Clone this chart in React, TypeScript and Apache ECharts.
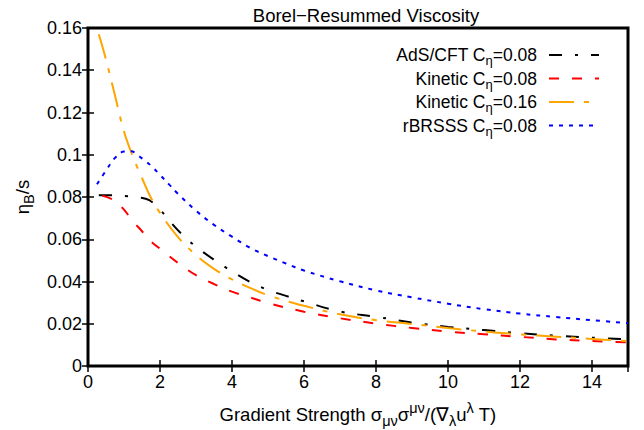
import React, { useEffect, useRef } from "react";
import * as echarts from "echarts";

const xAds = [0.3, 0.6, 1.0, 1.4, 1.7, 2.0, 2.3, 2.6, 3, 3.5, 4, 4.5, 5, 5.5, 6, 7, 8, 9, 10, 11, 12, 13, 14, 15];
const yAds = [0.0808, 0.0808, 0.0805, 0.0798, 0.0785, 0.074, 0.068, 0.0625, 0.0565, 0.0503, 0.0448, 0.0398, 0.036, 0.0332, 0.0306, 0.0258, 0.0233, 0.0206, 0.0185, 0.017, 0.0155, 0.0144, 0.0134, 0.0127];

const xKin08 = [0.4, 0.6, 0.8, 1.0, 1.25, 1.5, 1.75, 2, 2.5, 3, 3.5, 4, 4.5, 5, 6, 7, 8, 9, 10, 11, 12, 13, 14, 15];
const yKin08 = [0.0806, 0.0795, 0.0775, 0.074, 0.0685, 0.0638, 0.059, 0.0555, 0.0488, 0.043, 0.0388, 0.0352, 0.0325, 0.0298, 0.0257, 0.0226, 0.0201, 0.018, 0.0163, 0.015, 0.0138, 0.0126, 0.0118, 0.0112];

const xKin16 = [0.3, 0.5, 0.75, 1.0, 1.25, 1.5, 1.75, 2, 2.5, 3, 3.5, 4, 4.5, 5, 6, 7, 8, 9, 10, 11, 12, 13, 14, 15];
const yKin16 = [0.157, 0.145, 0.128, 0.111, 0.099, 0.089, 0.0795, 0.0725, 0.061, 0.0525, 0.046, 0.041, 0.037, 0.0335, 0.0285, 0.0245, 0.0217, 0.0199, 0.018, 0.0163, 0.015, 0.0139, 0.0128, 0.0118];

const xRb = [0.25, 0.5, 0.75, 1.0, 1.2, 1.4, 1.6, 1.8, 2.0, 2.25, 2.5, 3, 3.5, 4, 4.5, 5, 5.5, 6, 7, 8, 9, 10, 11, 12, 13, 14, 15];
const yRb = [0.086, 0.0925, 0.0985, 0.1015, 0.1016, 0.0995, 0.097, 0.094, 0.0905, 0.086, 0.0815, 0.0735, 0.0668, 0.0612, 0.056, 0.052, 0.0485, 0.0452, 0.0401, 0.0358, 0.0325, 0.0295, 0.0269, 0.0248, 0.0232, 0.0217, 0.0203];

const seriesNames = ["AdS/CFT C_eta=0.08", "Kinetic C_eta=0.08", "Kinetic C_eta=0.16", "rBRSSS C_eta=0.08"];
const legendPrefix = ["AdS/CFT C", "Kinetic C", "Kinetic C", "rBRSSS C"];
const legendSuffix = ["=0.08", "=0.08", "=0.16", "=0.08"];

const titleText = "Borel\u2212Resummed Viscosity";

const zip = (xs: number[], ys: number[]) => xs.map((x, i) => [x, ys[i]]);

const FONT = "Liberation Sans, Arial, Helvetica, sans-serif";

export default function App() {
  const ref = useRef<HTMLDivElement>(null);
  useEffect(() => {
    if (!ref.current) return;
    const chart = echarts.init(ref.current, undefined, { renderer: "svg" });
    const colors = ["#000000", "#ff0000", "#ffa500", "#0000ff"];
    const dashes = [
      [13, 13, 3, 13],
      [10, 13],
      [25, 10, 5, 10],
      [4, 6],
    ];
    const datas = [zip(xAds, yAds), zip(xKin08, yKin08), zip(xKin16, yKin16), zip(xRb, yRb)];
    const tickStyle = { inside: true, length: 6, lineStyle: { color: "#000", width: 1.5 } };
    const labelStyle = { color: "#000", fontSize: 18, fontFamily: FONT };
    const subStyle = { fontSize: 14.5, fontFamily: FONT, color: "#000", verticalAlign: "bottom", lineHeight: 13 };
    const supStyle = { fontSize: 14.5, fontFamily: FONT, color: "#000", verticalAlign: "top", lineHeight: 13 };
    chart.setOption({
      animation: false,
      title: {
        text: titleText,
        left: 361,
        textAlign: "center",
        top: 1,
        textStyle: { color: "#000", fontSize: 18.5, fontWeight: "normal", fontFamily: FONT },
      },
      grid: {
        left: 88,
        right: 16,
        top: 28,
        bottom: 64,
        show: true,
        borderColor: "#000",
        borderWidth: 3,
        backgroundColor: "transparent",
        containLabel: false,
        outerBoundsMode: "none",
      },
      legend: {
        orient: "vertical",
        right: 39,
        top: 41,
        align: "right",
        itemWidth: 50,
        itemHeight: 14,
        itemGap: 2.5,
        data: seriesNames,
        itemStyle: { color: "transparent", borderWidth: 0, opacity: 0 },
        formatter: (name: string) => {
          const i = seriesNames.indexOf(name);
          return `{n|${legendPrefix[i]}}{s|\u03b7}{n|${legendSuffix[i]}}`;
        },
        textStyle: {
          color: "#000",
          fontFamily: FONT,
          padding: [0, 7, 0, 0],
          rich: {
            n: { fontSize: 17.5, fontFamily: FONT, color: "#000", lineHeight: 24, verticalAlign: "middle" },
            s: { fontSize: 13, fontFamily: FONT, color: "#000", lineHeight: 12, verticalAlign: "bottom" },
          },
        },
      },
      xAxis: [
        {
          type: "value",
          min: 0,
          max: 15,
          interval: 2,
          position: "bottom",
          axisLine: { show: false },
          axisTick: tickStyle,
          splitLine: { show: false },
          axisLabel: { ...labelStyle, margin: 7, showMaxLabel: false },
          name: "Gradient Strength \u03c3{sub|\u03bc\u03bd}\u03c3{sup|\u03bc\u03bd}/(\u2207{sub|\u03bb}u{sup|\u03bb} T)",
          nameLocation: "middle",
          nameGap: 34,
          nameTextStyle: {
            color: "#000",
            fontSize: 18.5,
            lineHeight: 28,
            fontFamily: FONT,
            rich: { sub: subStyle, sup: supStyle },
          },
        },
        {
          type: "value",
          min: 0,
          max: 15,
          interval: 2,
          position: "top",
          axisLine: { show: false },
          axisTick: tickStyle,
          splitLine: { show: false },
          axisLabel: { show: false },
        },
      ],
      yAxis: [
        {
          type: "value",
          min: 0,
          max: 0.16,
          interval: 0.02,
          position: "left",
          axisLine: { show: false },
          axisTick: tickStyle,
          splitLine: { show: false },
          axisLabel: { ...labelStyle, margin: 6 },
          name: "\u03b7{sub|B}/s",
          nameLocation: "middle",
          nameGap: 52,
          nameTextStyle: {
            color: "#000",
            fontSize: 18.5,
            lineHeight: 28,
            fontFamily: FONT,
            rich: { sub: subStyle },
          },
        },
        {
          type: "value",
          min: 0,
          max: 0.16,
          interval: 0.02,
          position: "right",
          axisLine: { show: false },
          axisTick: tickStyle,
          splitLine: { show: false },
          axisLabel: { show: false },
        },
      ],
      series: seriesNames.map((name, i) => ({
        name,
        type: "line",
        data: datas[i],
        xAxisIndex: 0,
        yAxisIndex: 0,
        showSymbol: false,
        symbol: "none",
        smooth: 0.4,
        color: colors[i],
        lineStyle: { color: colors[i], width: 2, type: dashes[i] },
        z: 2 + i,
      })),
    });
    return () => chart.dispose();
  }, []);
  return <div ref={ref} style={{ width: 644, height: 430, position: "absolute", left: 0, top: 0 }} />;
}
